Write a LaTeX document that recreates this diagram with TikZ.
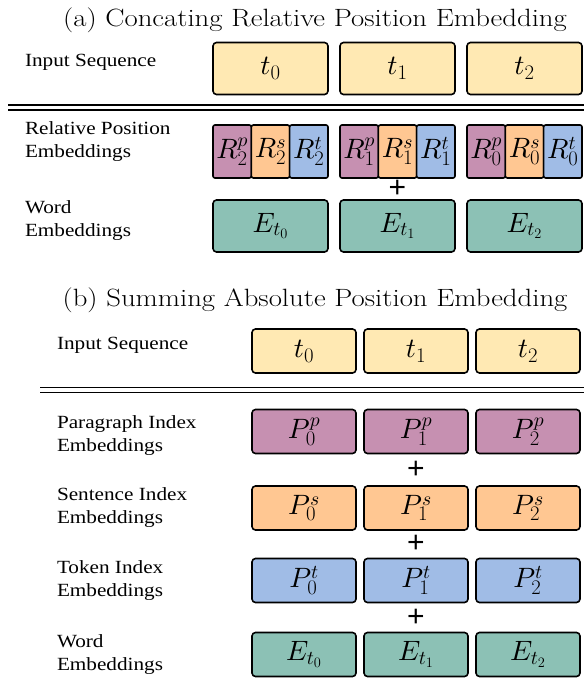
\documentclass[tikz,border=0pt]{standalone}
\usepackage{fontspec}
\newfontfamily\labelfont[FakeStretch=1.14]{Liberation Serif}
\newfontfamily\titlefont[FakeStretch=1.15]{Latin Modern Roman}
\newfontfamily\plusfont{Liberation Sans}
% math letters from cmmi10 at any size
\DeclareFontShape{OML}{cmm}{m}{it}{<->cmmi10}{\skewchar\font=127 }
\usetikzlibrary{positioning, calc}
\definecolor{seqyellow}{HTML}{FFE9B3}
\definecolor{parapink}{HTML}{C690B1}
\definecolor{sentorange}{HTML}{FFC792}
\definecolor{tokblue}{HTML}{A0BCE6}
\definecolor{wordgreen}{HTML}{8CC1B5}

\begin{document}
\begin{tikzpicture}[x=1pt, y=-1pt,
    every node/.style={inner sep=0pt, outer sep=0pt},
    caption/.style={anchor=base, font=\titlefont\fontsize{25}{29}\selectfont},
    rowlabel/.style={anchor=west, align=left, font=\labelfont\fontsize{18.6}{23}\selectfont},
    emb/.style={draw=black, line width=1.6pt, rounded corners=3.5pt,
      minimum width=104pt, minimum height=44pt, font=\fontsize{28}{32}\selectfont},
    bigemb/.style={emb, minimum width=115pt, minimum height=52pt},
    relemb/.style={emb, rounded corners=2pt, minimum width=38.33pt, minimum height=53pt},
    plus/.style={font=\plusfont\fontsize{30}{30}\selectfont},
    sepline/.style={draw=black, line width=1.8pt, double distance=3.2pt}]

  \useasboundingbox (0,0) rectangle (584,681);

  % (a) relative embeddings concatenated in front of the words
  \node[caption] (capA) at (315,26) {(a) Concating Relative Position Embedding};

  \node[rowlabel] (seqA) at (25,62) {Input Sequence};
  \node[bigemb, fill=seqyellow] (seqA0) at (270.5,68.5) {$t_0$};
  \node[bigemb, fill=seqyellow, right=12pt of seqA0] (seqA1) {$t_1$};
  \node[bigemb, fill=seqyellow, right=12pt of seqA1] (seqA2) {$t_2$};

  \coordinate (sepAl) at (8,107.5);
  \coordinate (sepAr) at (584,107.5);
  \draw[sepline] (sepAl) -- (sepAr);

  \node[rowlabel] (relA) at (25,142) {Relative Position\\Embeddings};
  \foreach \k [count=\g from 0] in {2,1,0} {
    \node[relemb, fill=parapink] (rp\g) at ({232.17+127*\g},151.5) {$R^p_{\k}$};
    \node[relemb, fill=sentorange, right=0pt of rp\g] (rs\g) {$R^s_{\k}$};
    \node[relemb, fill=tokblue, right=0pt of rs\g] (rt\g) {$R^t_{\k}$};
  }

  \node[rowlabel] (wordA) at (25,221) {Word\\Embeddings};
  \foreach \i in {0,1,2}
    \node[bigemb, fill=wordgreen] (wordA\i) at ({270.5+127*\i},226) {$E_{t_{\i}}$};

  \node[plus] (plusA) at ($(rs1.south)!0.5!(wordA1.north)$) {+};

  % (b) absolute index embeddings summed onto the words
  \node[caption] (capB) at (315,306) {(b) Summing Absolute Position Embedding};

  \node[rowlabel] (seqB) at (57,345) {Input Sequence};
  \foreach \i in {0,1,2}
    \node[emb, fill=seqyellow] (seqB\i) at ({304+112*\i},351) {$t_{\i}$};

  \coordinate (sepBl) at (40,390);
  \coordinate (sepBr) at (584,390);
  \draw[sepline] (sepBl) -- (sepBr);

  \node[rowlabel] (paraB) at (57,436) {Paragraph Index\\Embeddings};
  \node[rowlabel] (sentB) at (57,508) {Sentence Index\\Embeddings};
  \node[rowlabel] (tokB) at (57,581) {Token Index\\Embeddings};
  \node[rowlabel] (wordB) at (57,655) {Word\\Embeddings};
  \foreach \i in {0,1,2} {
    \node[emb, fill=parapink] (para\i) at ({304+112*\i},431.5) {$P^p_{\i}$};
    \node[emb, fill=sentorange] (sent\i) at ({304+112*\i},508) {$P^s_{\i}$};
    \node[emb, fill=tokblue] (tok\i) at ({304+112*\i},580.5) {$P^t_{\i}$};
    \node[emb, fill=wordgreen] (word\i) at ({304+112*\i},654.5) {$E_{t_{\i}}$};
  }

  \node[plus] (plusB1) at ($(para1.south)!0.5!(sent1.north)$) {+};
  \node[plus] (plusB2) at ($(sent1.south)!0.5!(tok1.north)$) {+};
  \node[plus] (plusB3) at ($(tok1.south)!0.5!(word1.north)$) {+};
\end{tikzpicture}
\end{document}
